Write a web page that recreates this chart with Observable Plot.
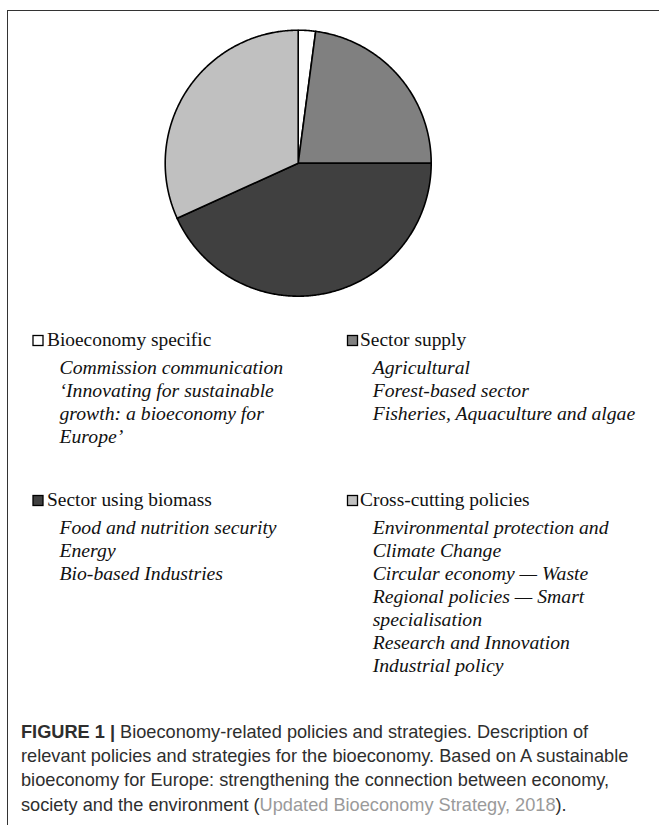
<!DOCTYPE html>
<html><head><meta charset="utf-8">
<script src="https://cdn.jsdelivr.net/npm/d3@7"></script>
<script src="https://cdn.jsdelivr.net/npm/@observablehq/plot@0.6"></script>
<style>
html,body{margin:0;padding:0;background:#fff;}
body{width:659px;height:825px;position:relative;overflow:hidden;}
#frame{position:absolute;left:7px;top:10px;width:700px;height:900px;border-left:1.5px solid #333;border-top:1.5px solid #333;box-sizing:border-box;}
#chart{position:absolute;left:0;top:0;}
#overlay{position:absolute;left:0;top:0;}
</style>
</head><body>
<div id="frame"></div>
<div id="chart"></div>
<svg id="overlay" width="659" height="825"></svg>
<script>
// ---- data ----
const categories = ["Bioeconomy specific", "Sector supply", "Sector using biomass", "Cross-cutting policies"];
const shares = [2.1, 22.9, 43.2, 31.8];
const colors = ["#ffffff", "#808080", "#404040", "#c0c0c0"];
const itemsBio = ["Commission communication", "\u2018Innovating for sustainable", "growth: a bioeconomy for", "Europe\u2019"];
const itemsSupply = ["Agricultural", "Forest-based sector", "Fisheries, Aquaculture and algae"];
const itemsBiomass = ["Food and nutrition security", "Energy", "Bio-based Industries"];
const itemsCross = ["Environmental protection and", "Climate Change", "Circular economy \u2014 Waste", "Regional policies \u2014 Smart", "specialisation", "Research and Innovation", "Industrial policy"];
const captionBold = "FIGURE 1 |";
const captionLines = [
  " Bioeconomy-related policies and strategies. Description of",
  "relevant policies and strategies for the bioeconomy. Based on A sustainable",
  "bioeconomy for Europe: strengthening the connection between economy,",
  "society and the environment ("
];
const captionRef = "Updated Bioeconomy Strategy, 2018";
const captionEnd = ").";

// ---- pie geometry from data via d3.pie ----
const arcs = d3.pie().sort(null).value(d => d)(shares);
const pts = [];
arcs.forEach((a, i) => {
  const cat = categories[i];
  pts.push({cat, x: 0, y: 0});
  const n = Math.max(2, Math.ceil((a.endAngle - a.startAngle) / (Math.PI / 360)));
  for (let k = 0; k <= n; k++) {
    const t = a.startAngle + (a.endAngle - a.startAngle) * k / n;
    pts.push({cat, x: Math.sin(t), y: Math.cos(t)});
  }
  pts.push({cat, x: 0, y: 0});
});

const cx = 297.7, cy = 162.7, r = 133;
const W = 659, H = 320;
const chart = Plot.plot({
  width: W, height: H,
  marginLeft: cx - r, marginRight: W - (cx + r),
  marginTop: cy - r, marginBottom: H - (cy + r),
  x: {domain: [-1, 1], axis: null},
  y: {domain: [-1, 1], axis: null},
  color: {domain: categories, range: colors},
  marks: [
    Plot.line(pts, {x: "x", y: "y", z: "cat", fill: "cat", stroke: "#000", strokeWidth: 1.6, strokeLinejoin: "round", curve: "linear"})
  ]
});
chart.style.background = "transparent";
document.getElementById("chart").appendChild(chart);

// ---- legend ----
const svg = d3.select("#overlay");
const serif = "'Liberation Serif','Times New Roman',serif";
const groups = [
  {cat: 0, items: itemsBio, sx: 33, tx: 47, ix: 59.5, base: 346},
  {cat: 1, items: itemsSupply, sx: 347.5, tx: 360, ix: 372.7, base: 346},
  {cat: 2, items: itemsBiomass, sx: 33, tx: 47, ix: 59.5, base: 506},
  {cat: 3, items: itemsCross, sx: 347.5, tx: 360, ix: 372.7, base: 506}
];
groups.forEach(g => {
  svg.append("rect").attr("x", g.sx).attr("y", g.base - 10.5).attr("width", 10).attr("height", 10)
    .attr("fill", colors[g.cat]).attr("stroke", "#000").attr("stroke-width", 1.3);
  svg.append("text").attr("x", g.tx).attr("y", g.base)
    .attr("font-family", serif).attr("font-size", 19.4).attr("fill", "#111").text(categories[g.cat]);
  g.items.forEach((t, j) => {
    svg.append("text").attr("x", g.ix).attr("y", g.base + 27.5 + j * 23)
      .attr("font-family", serif).attr("font-style", "italic").attr("font-size", 19.7).attr("fill", "#111").text(t);
  });
});

// ---- caption ----
const sans = "'Liberation Sans',Arial,Helvetica,sans-serif";
const capBase = 738, capStep = 24.2, capX = 21, capSize = 18.2;
captionLines.forEach((line, i) => {
  const t = svg.append("text").attr("x", capX).attr("y", capBase + i * capStep)
    .attr("font-family", sans).attr("font-size", capSize).attr("fill", "#2e2e2e");
  if (i === 0) t.append("tspan").attr("font-weight", "bold").text(captionBold);
  t.append("tspan").text(line);
  if (i === captionLines.length - 1) {
    t.append("tspan").attr("fill", "#9a9a9a").text(captionRef);
    t.append("tspan").text(captionEnd);
  }
});
</script>
</body></html>
